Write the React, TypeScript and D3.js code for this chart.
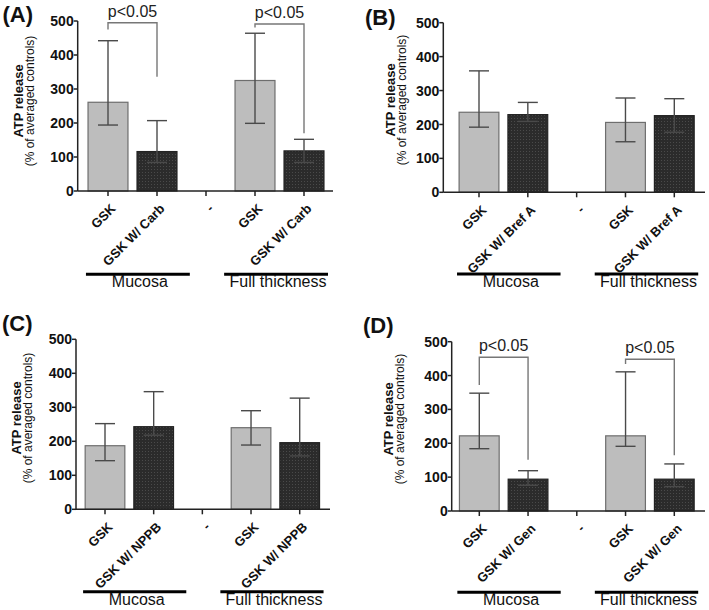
import React from "react";
import * as d3 from "d3";

// ---------- data ----------
const catsA = ["GSK", "GSK W/ Carb", "-", "GSK", "GSK W/ Carb"];
const catsB = ["GSK", "GSK W/ Bref A", "-", "GSK", "GSK W/ Bref A"];
const catsC = ["GSK", "GSK W/ NPPB", "-", "GSK", "GSK W/ NPPB"];
const catsD = ["GSK", "GSK W/ Gen", "-", "GSK", "GSK W/ Gen"];

const meanA = [261, 116, null, 325, 118];
const upperA = [442, 207, null, 464, 152];
const lowerA = [194, 84, null, 199, 84];

const meanB = [236, 229, null, 206, 226];
const upperB = [358, 265, null, 278, 276];
const lowerB = [192, 209, null, 149, 177];

const meanC = [187, 243, null, 240, 196];
const upperC = [252, 346, null, 290, 327];
const lowerC = [143, 218, null, 189, 157];

const meanD = [222, 94, null, 222, 94];
const upperD = [348, 119, null, 411, 139];
const lowerD = [184, 76, null, 191, 72];

const yTicks = [0, 100, 200, 300, 400, 500];
const groups = ["Mucosa", "Full thickness"];
const sigLabel = "p<0.05";

// brackets: [fromIdx, toIdx, topValue, leftArmEnd, rightArmEnd]
const bracketsA = [
  [0, 1, 495, 475, 336],
  [3, 4, 491, 481, 170],
];
const bracketsD = [
  [0, 1, 454, 372, 151],
  [3, 4, 448, 434, 165],
];

const yLabel1 = "ATP release";
const yLabel2 = "(% of averaged controls)";

// ---------- layout ----------
const FONT = "'Liberation Sans', Arial, Helvetica, sans-serif";

type Layout = {
  tag: string;
  axisX: number;
  axisEnd: number;
  y0: number;
  y500: number;
  c0: number;
  c4: number;
  lab1X: number;
  lab2X: number;
  labY: number;
  tagX: number;
  tagY: number;
  groupY: number;
};

const layA: Layout = { tag: "(A)", axisX: 77.7, axisEnd: 333, y0: 191, y500: 21, c0: 108, c4: 304, lab1X: 18.3, lab2X: 29.3, labY: 101, tagX: 2.5, tagY: 22, groupY: 274.3 };
const layB: Layout = { tag: "(B)", axisX: 443.3, axisEnd: 705, y0: 192.3, y500: 22.7, c0: 479, c4: 674.3, lab1X: 390.3, lab2X: 401.7, labY: 100, tagX: 365, tagY: 25, groupY: 274 };
const layC: Layout = { tag: "(C)", axisX: 76, axisEnd: 330, y0: 509.3, y500: 339.3, c0: 105, c4: 299.7, lab1X: 16.7, lab2X: 27.3, labY: 418, tagX: 2, tagY: 331, groupY: 591.7 };
const layD: Layout = { tag: "(D)", axisX: 451.7, axisEnd: 705, y0: 511, y500: 341.7, c0: 479.3, c4: 674.3, lab1X: 388.3, lab2X: 400, labY: 419, tagX: 363, tagY: 333, groupY: 592.3 };

type PanelProps = {
  lay: Layout;
  cats: string[];
  mean: (number | null)[];
  upper: (number | null)[];
  lower: (number | null)[];
  brackets?: number[][];
  id: string;
};

function Panel({ lay, cats, mean, upper, lower, brackets, id }: PanelProps) {
  const y = d3.scaleLinear().domain([0, 500]).range([lay.y0, lay.y500]);
  const keys = cats.map((c, i) => `${i}`);
  const x = d3.scalePoint<string>().domain(keys).range([lay.c0, lay.c4]);
  const step = x.step();
  const bw = step * 0.815;
  const cap = 20;
  const errColor = "#4a4a4a";

  const groupSpans = [
    [x("0")! - step * 0.45, x("1")! + step * 0.67],
    [x("3")! - step * 0.63, x("4")! + step * 0.49],
  ];

  return (
    <g>
      <text x={lay.tagX} y={lay.tagY} fontFamily={FONT} fontWeight="bold" fontSize={22} fill="#111">
        {lay.tag}
      </text>
      <g transform={`translate(${lay.lab1X},${lay.labY}) rotate(-90)`}>
        <text textAnchor="middle" dy="0.35em" fontFamily={FONT} fontWeight="bold" fontSize={13} fill="#111">
          {yLabel1}
        </text>
      </g>
      <g transform={`translate(${lay.lab2X},${lay.labY}) rotate(-90)`}>
        <text textAnchor="middle" dy="0.35em" fontFamily={FONT} fontSize={12} fill="#111">
          {yLabel2}
        </text>
      </g>

      {/* bars */}
      {mean.map((m, i) =>
        m == null ? null : (
          <rect
            key={`b${i}`}
            x={x(`${i}`)! - bw / 2}
            y={y(m)}
            width={bw}
            height={lay.y0 - y(m)}
            fill={i % 3 === 0 ? "#bdbdbd" : `url(#dots${id})`}
            stroke={i % 3 === 0 ? "#6e6e6e" : "#222"}
            strokeWidth={1.2}
          />
        )
      )}

      {/* error bars */}
      {mean.map((m, i) => {
        if (m == null) return null;
        const cx = x(`${i}`)!;
        const u = upper[i]!;
        const l = lower[i]!;
        return (
          <g key={`e${i}`} stroke={errColor} strokeWidth={1.4}>
            <line x1={cx} x2={cx} y1={y(u)} y2={y(l)} />
            <line x1={cx - cap / 2} x2={cx + cap / 2} y1={y(u)} y2={y(u)} />
            <line x1={cx - cap / 2} x2={cx + cap / 2} y1={y(l)} y2={y(l)} />
          </g>
        );
      })}

      {/* y axis */}
      <line x1={lay.axisX} x2={lay.axisX} y1={y(500)} y2={y(0)} stroke="#222" strokeWidth={1.5} />
      {yTicks.map((t) => (
        <g key={`yt${t}`}>
          <line x1={lay.axisX - 4} x2={lay.axisX} y1={y(t)} y2={y(t)} stroke="#222" strokeWidth={1.5} />
          <text
            x={lay.axisX - 4}
            y={y(t)}
            dy="0.36em"
            textAnchor="end"
            fontFamily={FONT}
            fontWeight="bold"
            fontSize={14}
            fill="#111"
          >
            {t}
          </text>
        </g>
      ))}

      {/* x axis */}
      <line x1={lay.axisX} x2={lay.axisEnd} y1={lay.y0} y2={lay.y0} stroke="#222" strokeWidth={1.5} />
      {cats.map((c, i) => {
        const cx = x(`${i}`)!;
        return (
          <g key={`xt${i}`}>
            <line x1={cx} x2={cx} y1={lay.y0} y2={lay.y0 + 5} stroke="#222" strokeWidth={1.5} />
            <g transform={`translate(${cx + 2},${lay.y0 + 12}) rotate(-45)`}>
              <text
                textAnchor="end"
                dy="0.7em"
                fontFamily={FONT}
                fontWeight="bold"
                fontSize={13}
                fill="#111"
              >
                {c}
              </text>
            </g>
          </g>
        );
      })}

      {/* group lines */}
      {groups.map((g, gi) => {
        const [a, b] = groupSpans[gi];
        return (
          <g key={`g${gi}`}>
            <line x1={a} x2={b} y1={lay.groupY} y2={lay.groupY} stroke="#000" strokeWidth={3} />
            <text
              x={(a + b) / 2 + 2}
              y={lay.groupY + 13}
              textAnchor="middle"
              fontFamily={FONT}
              fontSize={16}
              fill="#111"
            >
              {g}
            </text>
          </g>
        );
      })}

      {/* significance brackets */}
      {(brackets || []).map((br, bi) => {
        const [f, t, top, le, re] = br;
        const xa = x(`${f}`)!;
        const xb = x(`${t}`)!;
        return (
          <g key={`br${bi}`}>
            <path
              d={`M${xa},${y(le)}V${y(top)}H${xb}V${y(re)}`}
              fill="none"
              stroke="#777"
              strokeWidth={1.4}
            />
            <text
              x={(xa + xb) / 2}
              y={y(top) - 6}
              textAnchor="middle"
              fontFamily={FONT}
              fontSize={16}
              fill="#222"
            >
              {sigLabel}
            </text>
          </g>
        );
      })}
    </g>
  );
}

export default function App() {
  const ids = ["A", "B", "C", "D"];
  return (
    <svg
      width={709}
      height={610}
      style={{ position: "absolute", left: 0, top: 0, background: "#fff" }}
    >
      <defs>
        {ids.map((id) => (
          <pattern key={id} id={`dots${id}`} width={3} height={3} patternUnits="userSpaceOnUse">
            <rect width={3} height={3} fill="#2b2b2b" />
            <rect x={1} y={1} width={1} height={1} fill="#4a4a4a" />
          </pattern>
        ))}
      </defs>
      <Panel id="A" lay={layA} cats={catsA} mean={meanA} upper={upperA} lower={lowerA} brackets={bracketsA} />
      <Panel id="B" lay={layB} cats={catsB} mean={meanB} upper={upperB} lower={lowerB} />
      <Panel id="C" lay={layC} cats={catsC} mean={meanC} upper={upperC} lower={lowerC} />
      <Panel id="D" lay={layD} cats={catsD} mean={meanD} upper={upperD} lower={lowerD} brackets={bracketsD} />
    </svg>
  );
}
